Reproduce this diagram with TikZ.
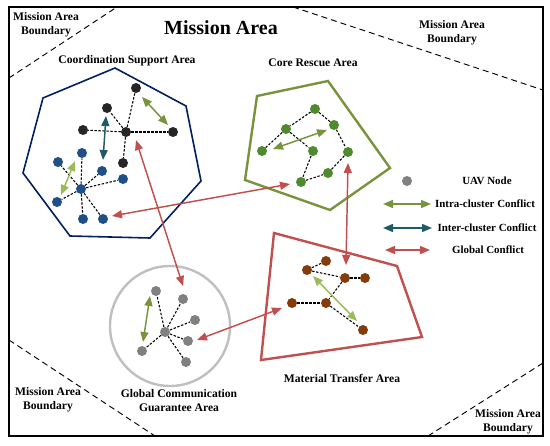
\documentclass[tikz,border=0pt]{standalone}
\usepackage{fontspec}
\setmainfont{Liberation Serif}
\usetikzlibrary{arrows.meta}

\definecolor{navyline}{HTML}{002060}
\definecolor{oliveline}{HTML}{77933C}
\definecolor{redline}{HTML}{C0504D}
\definecolor{grayline}{HTML}{BFBFBF}
\definecolor{blacknode}{HTML}{262626}
\definecolor{bluenode}{HTML}{1F5088}
\definecolor{greennode}{HTML}{4F8A2E}
\definecolor{brownnode}{HTML}{843C0C}
\definecolor{graynode}{HTML}{808080}
\definecolor{tealarrow}{HTML}{215968}
\definecolor{lightgreen}{HTML}{9BBB59}

\begin{document}
\begin{tikzpicture}[x=0.75pt, y=-0.75pt,
        uav/.style={circle, fill=#1, minimum size=7.5pt, inner sep=0pt},
        link/.style={dash pattern=on 1.8pt off 1.2pt, line width=0.8pt},
        conflict/.style={{Triangle[length=7.5pt,width=6pt]}-{Triangle[length=7.5pt,width=6pt]}, line width=1.1pt, draw=#1},
        lbl/.style={font=\bfseries\fontsize{8.7}{10.5}\selectfont, align=center},
        legend/.style={font=\bfseries\fontsize{8.2}{10}\selectfont},
        boundary/.style={dash pattern=on 4.5pt off 3pt, line width=0.7pt}]

        \useasboundingbox (0, 0) rectangle (550, 446);
        \draw [line width=1.6pt] (9, 7) rectangle (543, 436);

        % mission area boundaries
        \draw [boundary] (9, 78) -- (117, 7);
        \draw [boundary] (293, 7) -- (543, 90);
        \draw [boundary] (9, 340) -- (155, 436);
        \draw [boundary] (428, 436) -- (543, 363);

        \node[font=\bfseries\fontsize{15}{18}\selectfont] at (221, 28) (title) {Mission Area};
        \node[lbl] at (46, 25)   (btl) {Mission Area\\Boundary};
        \node[lbl] at (452, 33)  (btr) {Mission Area\\Boundary};
        \node[lbl] at (48, 400)  (bbl) {Mission Area\\Boundary};
        \node[lbl] at (508, 422) (bbr) {Mission Area\\Boundary};

        % areas
        \draw [navyline, line width=1.2pt] (115, 68) -- (186, 106) -- (201, 181) -- (150, 238)
            -- (70, 236) -- (23, 173) -- (43, 98) -- cycle;
        \draw [oliveline, line width=1.8pt] (257, 96) -- (328, 81) -- (390, 168) -- (330, 210)
            -- (245, 180) -- cycle;
        \draw [redline, line width=1.8pt] (274, 233) -- (397, 266) -- (422, 337) -- (261, 360) -- cycle;
        \draw [grayline, line width=1.8pt] (170, 326) circle (60);

        \node[lbl] at (127, 61)  (csa) {Coordination Support Area};
        \node[lbl] at (313, 63)  (cra) {Core Rescue Area};
        \node[lbl] at (179, 401) (gca) {Global Communication\\Guarantee Area};
        \node[lbl] at (342, 378) (mta) {Material Transfer Area};

        % coordination support cluster
        \node[uav=blacknode] at (126, 132) (k0) {};
        \node[uav=blacknode] at (136, 88)  (k1) {};
        \node[uav=blacknode] at (107, 108) (k2) {};
        \node[uav=blacknode] at (83, 130)  (k3) {};
        \node[uav=blacknode] at (173, 132) (k4) {};
        \node[uav=blacknode] at (123, 163) (k5) {};
        \draw [link] (k0) -- (k1);
        \draw [link] (k0) -- (k2);
        \draw [link] (k0) -- (k3);
        \draw [link] (k0) -- (k4);
        \draw [link] (k0) -- (k5);

        \node[uav=bluenode] at (81, 189)  (b0) {};
        \node[uav=bluenode] at (82, 153)  (b1) {};
        \node[uav=bluenode] at (58, 162)  (b2) {};
        \node[uav=bluenode] at (102, 171) (b3) {};
        \node[uav=bluenode] at (123, 179) (b4) {};
        \node[uav=bluenode] at (57, 202)  (b5) {};
        \node[uav=bluenode] at (83, 219)  (b6) {};
        \node[uav=bluenode] at (103, 219) (b7) {};
        \draw [link] (b0) -- (b1);
        \draw [link] (b0) -- (b2);
        \draw [link] (b0) -- (b3);
        \draw [link] (b0) -- (b4);
        \draw [link] (b0) -- (b5);
        \draw [link] (b0) -- (b6);
        \draw [link] (b0) -- (b7);

        % core rescue cluster
        \node[uav=greennode] at (315, 109) (c1) {};
        \node[uav=greennode] at (286, 129) (c2) {};
        \node[uav=greennode] at (334, 125) (c3) {};
        \node[uav=greennode] at (262, 151) (c4) {};
        \node[uav=greennode] at (313, 151) (c5) {};
        \node[uav=greennode] at (348, 152) (c6) {};
        \node[uav=greennode] at (328, 173) (c7) {};
        \node[uav=greennode] at (301, 182) (c8) {};
        \draw [link] (c1) -- (c2);
        \draw [link] (c1) -- (c3);
        \draw [link] (c2) -- (c4);
        \draw [link] (c2) -- (c5);
        \draw [link] (c5) -- (c8);
        \draw [link] (c8) -- (c7);
        \draw [link] (c7) -- (c6);
        \draw [link] (c3) -- (c6);

        % material transfer cluster
        \node[uav=brownnode] at (326, 261) (m1) {};
        \node[uav=brownnode] at (307, 270) (m2) {};
        \node[uav=brownnode] at (345, 278) (m3) {};
        \node[uav=brownnode] at (365, 278) (m4) {};
        \node[uav=brownnode] at (292, 303) (m5) {};
        \node[uav=brownnode] at (326, 303) (m6) {};
        \node[uav=brownnode] at (363, 330) (m7) {};
        \draw [link] (m2) -- (m1);
        \draw [link] (m2) -- (m3);
        \draw [link] (m3) -- (m4);
        \draw [link] (m3) -- (m6);
        \draw [link] (m5) -- (m6);
        \draw [link] (m6) -- (m7);

        % global communication cluster
        \node[uav=graynode] at (165, 332) (g0) {};
        \node[uav=graynode] at (156, 291) (g1) {};
        \node[uav=graynode] at (183, 299) (g2) {};
        \node[uav=graynode] at (195, 320) (g3) {};
        \node[uav=graynode] at (188, 341) (g4) {};
        \node[uav=graynode] at (142, 351) (g5) {};
        \node[uav=graynode] at (186, 362) (g6) {};
        \draw [link] (g0) -- (g1);
        \draw [link] (g0) -- (g2);
        \draw [link] (g0) -- (g3);
        \draw [link] (g0) -- (g4);
        \draw [link] (g0) -- (g5);
        \draw [link] (g0) -- (g6);

        % conflicts
        \coordinate (ka) at (142, 97);  \coordinate (kb) at (168, 125);
        \coordinate (ta) at (106, 116); \coordinate (tb) at (103, 160);
        \coordinate (ba) at (75, 161);  \coordinate (bb) at (61, 195);
        \coordinate (ca) at (327, 130); \coordinate (cb) at (273, 149);
        \coordinate (ma) at (313, 276); \coordinate (mb) at (357, 321);
        \coordinate (ga) at (150, 296); \coordinate (gb) at (143, 342);
        \draw [conflict=oliveline] (ka) -- (kb);
        \draw [conflict=tealarrow] (ta) -- (tb);
        \draw [conflict=lightgreen] (ba) -- (bb);
        \draw [conflict=oliveline] (ca) -- (cb);
        \draw [conflict=lightgreen] (ma) -- (mb);
        \draw [conflict=oliveline] (ga) -- (gb);

        \coordinate (r1a) at (136, 140); \coordinate (r1b) at (183, 286);
        \coordinate (r2a) at (112, 216); \coordinate (r2b) at (290, 184);
        \coordinate (r3a) at (348, 163); \coordinate (r3b) at (346, 265);
        \coordinate (r4a) at (197, 340); \coordinate (r4b) at (282, 308);
        \draw [conflict=redline] (r1a) -- (r1b);
        \draw [conflict=redline] (r2a) -- (r2b);
        \draw [conflict=redline] (r3a) -- (r3b);
        \draw [conflict=redline] (r4a) -- (r4b);

        % legend
        \node[uav=graynode] at (407, 181) (lnode) {};
        \coordinate (l1a) at (383, 204); \coordinate (l1b) at (431, 204);
        \coordinate (l2a) at (383, 228); \coordinate (l2b) at (432, 228);
        \coordinate (l3a) at (385, 250); \coordinate (l3b) at (430, 250);
        \draw [conflict=oliveline] (l1a) -- (l1b);
        \draw [conflict=tealarrow] (l2a) -- (l2b);
        \draw [conflict=redline] (l3a) -- (l3b);
        \node[legend] at (487, 181) (tnode)   {UAV Node};
        \node[legend] at (485, 204) (tintra)  {Intra-cluster Conflict};
        \node[legend] at (487, 228) (tinter)  {Inter-cluster Conflict};
        \node[legend] at (488, 250) (tglobal) {Global Conflict};
    \end{tikzpicture}
\end{document}
